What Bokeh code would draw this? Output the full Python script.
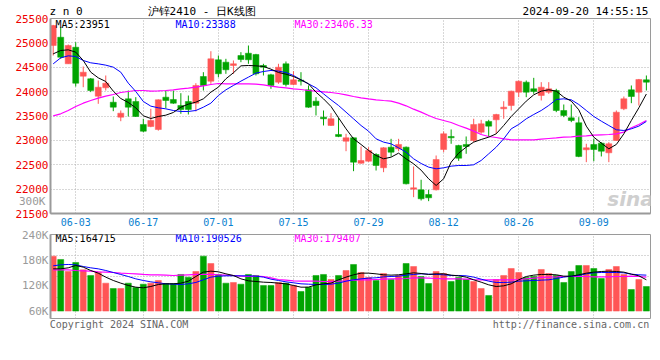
from bokeh.plotting import figure
from bokeh.models import Range1d, FixedTicker, Label, ColumnDataSource, LinearAxis
from bokeh.layouts import column
from bokeh.embed import file_html
from bokeh.resources import INLINE

# ---------------- data ----------------
dates = ["05-29", "05-30", "05-31",
         "06-03", "06-04", "06-05", "06-06", "06-07", "06-11", "06-12", "06-13", "06-14",
         "06-17", "06-18", "06-19", "06-20", "06-21", "06-24", "06-25", "06-26", "06-27", "06-28",
         "07-01", "07-02", "07-03", "07-04", "07-05", "07-08", "07-09", "07-10", "07-11", "07-12",
         "07-15", "07-16", "07-17", "07-18", "07-19", "07-22", "07-23", "07-24", "07-25", "07-26",
         "07-29", "07-30", "07-31", "08-01", "08-02", "08-05", "08-06", "08-07", "08-08", "08-09",
         "08-12", "08-13", "08-14", "08-15", "08-16", "08-19", "08-20", "08-21", "08-22", "08-23",
         "08-26", "08-27", "08-28", "08-29", "08-30", "09-02", "09-03", "09-04", "09-05", "09-06",
         "09-09", "09-10", "09-11", "09-12", "09-13", "09-18", "09-19", "09-20"]

opens = [24946, 25116, 24571, 24911, 24317, 24263, 23906, 24078, 23783, 23476,
         23852, 23798, 23326, 23285, 23223, 23886, 23839, 23716, 23798, 23763,
         24310, 24214, 24653, 24604, 24536, 24741, 24788, 24762, 24536, 24345,
         24194, 24571, 24146, 24235, 24037, 23804, 23476, 23306, 23121, 22983,
         23053, 22532, 22573, 22710, 22438, 22861, 22827, 22861, 22000, 21986,
         21890, 21986, 22813, 23080, 22895, 22916, 22998, 23168, 23388, 23422,
         23648, 23716, 23989, 24194, 24058, 23921, 23989, 24023, 23613, 23463,
         23361, 22807, 22916, 22943, 22745, 22998, 23648, 24037, 23989, 24242]
highs = [25370, 25322, 24967, 25014, 24516, 24280, 24228, 24331, 23900, 23613,
         24023, 23886, 23443, 23648, 23840, 24023, 24023, 23968, 23920, 24173,
         24399, 24829, 24741, 24673, 24639, 24809, 24946, 24775, 24571, 24366,
         24571, 24618, 24420, 24399, 24126, 23886, 23613, 23558, 23463, 23135,
         23060, 22875, 22861, 22737, 22860, 23032, 23032, 22875, 22465, 22192,
         21986, 22690, 23183, 23224, 22910, 23080, 23443, 23422, 23422, 23545,
         23804, 24020, 24228, 24228, 24283, 24194, 24194, 24058, 23736, 23736,
         23476, 22930, 23032, 22963, 22963, 23613, 23900, 24126, 24260, 24331]
lows = [24741, 24673, 24571, 24105, 24091, 23990, 23750, 24023, 23599, 23393,
        23490, 23480, 23168, 23270, 23200, 23660, 23750, 23545, 23531, 23593,
        24023, 24160, 24296, 24365, 24366, 24604, 24571, 24331, 24331, 24058,
        24160, 24105, 24130, 24126, 23670, 23511, 23306, 23295, 23066, 22778,
        22368, 22520, 22560, 22382, 22348, 22670, 22778, 22096, 21835, 21767,
        21753, 21972, 22758, 22930, 22580, 22725, 22963, 23135, 23066, 23135,
        23443, 23613, 23886, 23886, 23955, 23818, 23955, 23579, 23476, 23374,
        22655, 22553, 22573, 22670, 22553, 22990, 23620, 23763, 23716, 24023]
closes = [25356, 24706, 24946, 24173, 24399, 24023, 24091, 24173, 23681, 23558,
          23681, 23490, 23188, 23408, 23833, 23818, 23763, 23634, 23634, 24126,
          24126, 24673, 24366, 24448, 24571, 24659, 24653, 24366, 24502, 24126,
          24501, 24146, 24242, 24214, 23681, 23716, 23443, 23443, 23080, 23053,
          22553, 22587, 22793, 22485, 22848, 22758, 22916, 22109, 22027, 21802,
          21822, 22608, 23135, 23053, 22635, 22875, 23326, 23340, 23292, 23531,
          23681, 24009, 24214, 23989, 24003, 24091, 24058, 23613, 23511, 23408,
          22670, 22848, 22813, 22778, 22930, 23578, 23853, 23900, 24249, 24194]

ma5 = [24775, 24844, 24857, 24810, 24639, 24399, 24283, 24208, 24010, 23859,
       23777, 23668, 23504, 23449, 23490, 23517, 23572, 23681, 23743, 23784,
       23852, 23989, 24092, 24263, 24386, 24529, 24536, 24529, 24516, 24461,
       24392, 24358, 24310, 24242, 24160, 23989, 23852, 23695, 23463, 23237,
       23032, 22916, 22793, 22690, 22622, 22656, 22738, 22622, 22519, 22389,
       22212, 22075, 22212, 22553, 22738, 22861, 22964, 23018, 23066, 23134,
       23305, 23490, 23647, 23805, 23934, 24010, 24037, 24010, 23887, 23805,
       23627, 23292, 23066, 22943, 22827, 22916, 23134, 23408, 23668, 23951]
ma10 = [24570, 24693, 24734, 24721, 24639, 24591, 24570, 24543, 24502, 24399,
        24174, 24003, 23798, 23702, 23668, 23647, 23613, 23593, 23593, 23613,
        23681, 23763, 23921, 24037, 24126, 24215, 24297, 24379, 24413, 24434,
        24420, 24392, 24331, 24242, 24160, 24078, 23955, 23832, 23716, 23579,
        23442, 23305, 23189, 23032, 22964, 22929, 22847, 22758, 22622, 22526,
        22451, 22417, 22437, 22471, 22485, 22485, 22499, 22588, 22724, 22861,
        23032, 23237, 23326, 23442, 23531, 23613, 23716, 23839, 23852, 23832,
        23736, 23613, 23490, 23394, 23305, 23217, 23203, 23237, 23292, 23388]
ma30 = [23504, 23545, 23613, 23695, 23763, 23818, 23866, 23907, 23941, 23982,
        24003, 24023, 24023, 24010, 24016, 24023, 24037, 24057, 24071, 24092,
        24119, 24146, 24167, 24160, 24160, 24160, 24160, 24153, 24140, 24112,
        24092, 24078, 24057, 24044, 24023, 24010, 23996, 23982, 23962, 23934,
        23900, 23873, 23852, 23832, 23818, 23805, 23763, 23709, 23640, 23579,
        23510, 23449, 23408, 23367, 23305, 23251, 23189, 23121, 23080, 23059,
        23032, 23011, 23011, 23011, 23011, 23025, 23039, 23052, 23066, 23073,
        23087, 23094, 23107, 23114, 23121, 23134, 23169, 23258, 23326, 23406]

volumes = [189800, 181900, 153500, 174800, 157500, 144100, 152000, 126000, 113400, 113400,
           126000, 115700, 123600, 126000, 132300, 125200, 125200, 146500, 140200, 153500,
           189800, 172400, 146500, 126000, 127600, 123600, 146500, 144100, 120500, 120500,
           127600, 126000, 120500, 106300, 116500, 144100, 146500, 134600, 144100, 155900,
           170100, 151200, 139400, 132300, 148800, 134600, 144100, 172400, 165300, 141700,
           125200, 153500, 148800, 129900, 139400, 134600, 129900, 113400, 96900, 134600,
           144100, 160600, 151200, 139400, 141700, 158300, 148800, 144100, 127600, 153500,
           167700, 167700, 160600, 137000, 158300, 165300, 146500, 111000, 134600, 118100]
vma5 = [159800, 159800, 162200, 167700, 163800, 155900, 149600, 140200, 132300, 126000,
        120500, 116500, 115000, 118100, 122800, 124400, 124400, 126000, 130700, 141700,
        152000, 154300, 152800, 148000, 144100, 136200, 131500, 129900, 128300, 127600,
        126000, 124400, 120500, 116500, 116500, 122000, 124400, 126000, 133900, 140200,
        145700, 149600, 149600, 148000, 145700, 144900, 145700, 148000, 150400, 148800,
        146500, 148000, 148000, 144900, 143300, 140200, 133900, 128300, 122000, 118100,
        119700, 124400, 133900, 141700, 144900, 146500, 146500, 145700, 142500, 142500,
        145700, 149600, 152000, 153500, 154300, 153500, 152000, 147200, 143300, 133900]
vma10 = [166900, 169300, 170100, 169300, 165300, 162200, 159800, 155900, 151200, 146500,
         141700, 136200, 132300, 129100, 126800, 124400, 123600, 122800, 124400, 127600,
         133900, 140200, 142500, 143300, 143300, 143300, 143300, 142500, 140200, 135400,
         132300, 129100, 126800, 124400, 123600, 122800, 122800, 123600, 126000, 130700,
         133900, 136200, 137800, 138600, 140900, 141700, 142500, 144900, 146500, 148000,
         147200, 146500, 145700, 144100, 144100, 143300, 140200, 135400, 130700, 127600,
         127600, 128300, 130700, 131500, 132300, 133100, 133900, 137000, 140200, 142500,
         144100, 148000, 150400, 151200, 151200, 151200, 150400, 147200, 145700, 144900]
vma30 = [157500, 157500, 157500, 155900, 155100, 154300, 152800, 152000, 151200, 149600,
         148800, 148000, 146500, 145700, 145700, 144900, 144100, 144900, 145700, 146500,
         146500, 146500, 145700, 144900, 144100, 142500, 141700, 142500, 141700, 138600,
         134600, 133100, 131500, 130700, 130700, 130700, 129900, 129900, 130700, 131500,
         133100, 133900, 133900, 134600, 135400, 136200, 136200, 137000, 138600, 138600,
         137800, 137000, 136200, 136200, 136200, 135400, 134600, 133900, 133900, 133900,
         133900, 133900, 134600, 136200, 137800, 139400, 140200, 140900, 141700, 141700,
         141700, 141700, 140900, 140900, 140900, 141700, 141700, 142500, 141700, 140200]

date_ticks = ["06-03", "06-17", "07-01", "07-15", "07-29", "08-12", "08-26", "09-09"]
price_ticks = [21500, 22000, 22500, 23000, 23500, 24000, 24500, 25000, 25500]
vol_ticks = [60000, 120000, 180000, 240000]
vol_tick_labels = ["60K", "120K", "180K", "240K"]
vol_base = 60000

header_texts = ["z n 0", "沪锌2410 - 日K线图", "2024-09-20 14:55:15"]
price_legend = ["MA5:23951", "MA10:23388", "MA30:23406.33"]
vol_legend = ["MA5:164715", "MA10:190526", "MA30:179407"]
stray_label = "300K"
footer_texts = ["Copyright 2024 SINA.COM", "http://finance.sina.com.cn"]

# ---------------- styles ----------------
RED = "#ff5555"
GREEN = "#00a400"
GRAY = "#9a9a9a"
GRID = "#b0b0b0"
MONO = "DejaVu Sans Mono"
C5, C10, C30 = "#000000", "#0000ff", "#ff00ff"

n = len(dates)
xs = list(range(n))
colors = [RED if c >= o else GREEN for o, c in zip(opens, closes)]
tick_idx = [dates.index(d) for d in date_ticks]

src = ColumnDataSource(dict(
    x=xs, o=opens, h=highs, l=lows, c=closes,
    top=[max(o, c) for o, c in zip(opens, closes)],
    bottom=[min(o, c) for o, c in zip(opens, closes)],
    color=colors, vol=volumes))

xr = Range1d(-0.36, n - 0.45)


def plain_axis(ax, color, size="10px", standoff=2):
    ax.major_label_text_color = color
    ax.major_label_text_font = MONO
    ax.major_label_text_font_size = size
    ax.major_tick_out = 0
    ax.major_tick_in = 0
    ax.minor_tick_out = 0
    ax.minor_tick_in = 0
    ax.major_label_standoff = standoff
    ax.axis_line_color = GRAY
    ax.axis_line_width = 2


def lab(fig, x, y, text, color="black", align="left", size="10px", font=MONO, style="normal"):
    fig.add_layout(Label(x=x, y=y, text=text, text_color=color, text_align=align,
                         text_baseline="middle", text_font=font, text_font_size=size,
                         text_font_style=style))


# ---------------- price panel ----------------
p = figure(width=660, height=228, x_range=xr, y_range=Range1d(price_ticks[0], price_ticks[-1]),
           output_backend="svg", toolbar_location=None,
           min_border_left=50, min_border_right=10, min_border_top=18, min_border_bottom=15)
p.outline_line_color = GRAY

p.yaxis.ticker = FixedTicker(ticks=price_ticks)
plain_axis(p.yaxis[0], "#ee0000", "11px", 2)

# a stray grey volume-scale label that sits in the price axis margin:
# an outer left axis whose label is pulled back beside the frame
stray_pos = 21747
stray_ax = LinearAxis(ticker=FixedTicker(ticks=[stray_pos]),
                      major_label_overrides={stray_pos: stray_label})
plain_axis(stray_ax, GRAY, "11px", -33)
stray_ax.axis_line_color = None
p.add_layout(stray_ax, "left")

p.xaxis.ticker = FixedTicker(ticks=tick_idx)
p.xaxis.major_label_overrides = {i: dates[i] for i in tick_idx}
plain_axis(p.xaxis[0], "#0a7fd0", "10px", 4)

# header line (symbol, title, time) carried by an upper axis
head_pos = [1.70, 19.76, 70.89]
head_ax = LinearAxis(ticker=FixedTicker(ticks=head_pos),
                     major_label_overrides=dict(zip(head_pos, header_texts)))
plain_axis(head_ax, "#000000", "11px", 1)
head_ax.axis_line_color = None
p.add_layout(head_ax, "above")

p.xgrid.ticker = FixedTicker(ticks=tick_idx)
p.ygrid.ticker = FixedTicker(ticks=price_ticks)
for g in (p.xgrid, p.ygrid):
    g.grid_line_color = GRID
    g.grid_line_dash = "1 2"

p.segment(x0="x", y0="l", x1="x", y1="h", color="color", line_width=1, source=src)
p.vbar(x="x", width=0.8, top="top", bottom="bottom", fill_color="color",
       line_color="color", line_width=0.5, source=src)
p.line(xs, ma30, color=C30, line_width=1.2)
p.line(xs, ma10, color=C10, line_width=1)
p.line(xs, ma5, color=C5, line_width=1)

lab(p, 0.31, 25377, price_legend[0], C5)
lab(p, 16.28, 25377, price_legend[1], C10)
lab(p, 32.13, 25377, price_legend[2], C30)
lab(p, 76.9, 21790, "sina", "#cfcfcf", align="center", size="20px",
    font="DejaVu Sans", style="bold italic")

# ---------------- volume panel ----------------
v = figure(width=660, height=108, x_range=xr, y_range=Range1d(42500, 240900),
           output_backend="svg", toolbar_location=None,
           min_border_left=50, min_border_right=10, min_border_top=6, min_border_bottom=18)
v.outline_line_color = GRAY
v.yaxis.ticker = FixedTicker(ticks=vol_ticks)
v.yaxis.major_label_overrides = dict(zip(vol_ticks, vol_tick_labels))
plain_axis(v.yaxis[0], GRAY, "11px", 2)

# footer texts carried by the lower axis
foot_pos = [8.76, 68.95]
v.xaxis.ticker = FixedTicker(ticks=foot_pos)
v.xaxis.major_label_overrides = dict(zip(foot_pos, footer_texts))
plain_axis(v.xaxis[0], "#666666", "10px", 0)
v.xaxis.axis_line_color = None

v.xgrid.ticker = FixedTicker(ticks=tick_idx)
v.ygrid.ticker = FixedTicker(ticks=[92100, 141700, 191300])
for g in (v.xgrid, v.ygrid):
    g.grid_line_color = GRID
    g.grid_line_dash = "1 2"

v.vbar(x="x", width=0.8, top="vol", bottom=vol_base, fill_color="color",
       line_color="color", line_width=0.5, source=src)
v.line(xs, vma30, color=C30, line_width=1.2)
v.line(xs, vma10, color=C10, line_width=1)
v.line(xs, vma5, color=C5, line_width=1)

lab(v, 0.31, 230772, vol_legend[0], C5)
lab(v, 16.28, 230772, vol_legend[1], C10)
lab(v, 32.13, 230772, vol_legend[2], C30)

layout = column(p, v, spacing=0)
open("out.html", "w").write(file_html(layout, INLINE))
